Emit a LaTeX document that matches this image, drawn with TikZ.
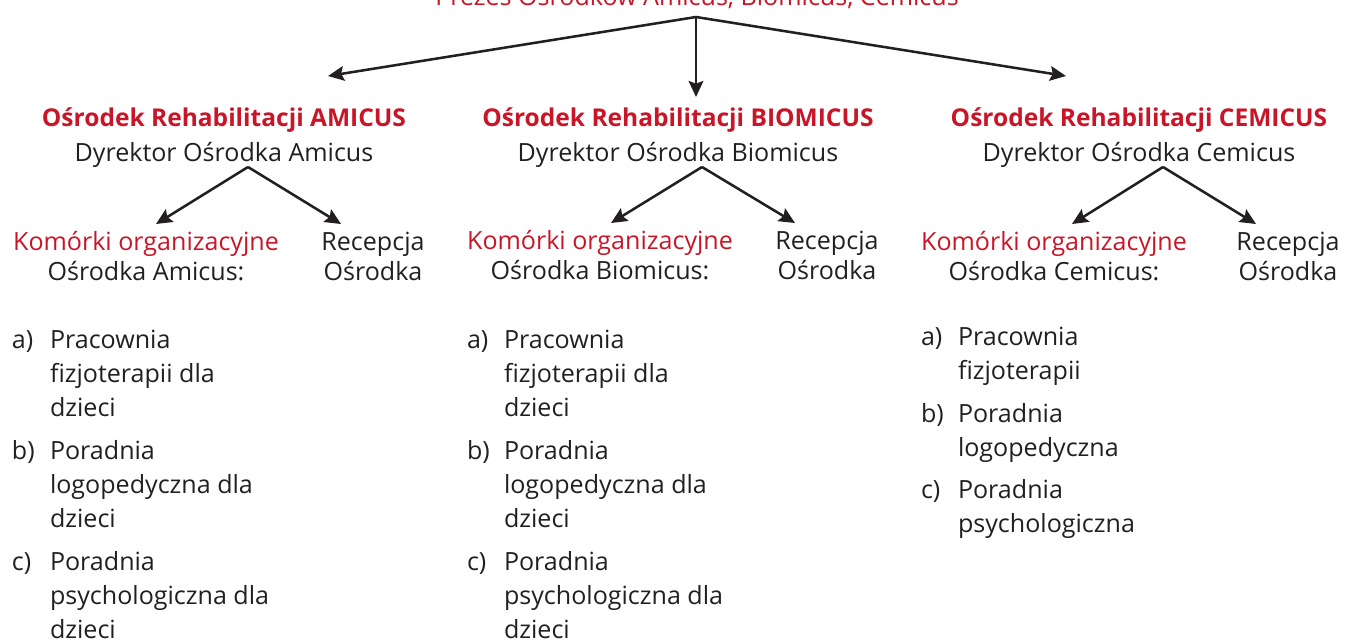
\documentclass[tikz,border=0pt]{standalone}
\usepackage{fontspec}
\setmainfont{Open Sans}
\usetikzlibrary{arrows.meta}
\definecolor{cred}{RGB}{200,22,40}
\definecolor{ctext}{RGB}{35,31,32}
\begin{document}
\begin{tikzpicture}[x=0.75pt,y=-0.75pt,
  base/.style={inner sep=0pt, outer sep=0pt, text=ctext, anchor=base},
  txt/.style={base, font=\fontsize{18.8}{25.5}\selectfont},
  head/.style={base, font=\fontsize{18.4}{25.5}\selectfont\bfseries, text=cred},
  top/.style={base, font=\fontsize{18.8}{25.5}\selectfont, text=cred},
  unit/.style={base, font=\fontsize{18.8}{22}\selectfont, align=center},
  lbl/.style={txt, anchor=base west},
  item/.style={txt, anchor=base west, align=left},
  arr/.style={draw=ctext, line width=1.9pt, -{Stealth[length=12pt,width=11pt,inset=2pt]}}
]
\useasboundingbox (0,0) rectangle (1345,639);

% top
\node[top] (prezes) at (697,5.5) {Prezes Ośrodków Amicus, Biomicus, Cemicus};
\coordinate (p) at (696,17);
\coordinate (tA) at (328,76);
\coordinate (tB) at (696,97);
\coordinate (tC) at (1066,76);
\draw[arr] (p) -- (tA);
\draw[arr] (p) -- (tB);
\draw[arr] (p) -- (tC);

% headings
\node[head] (hA) at (224,126) {Ośrodek Rehabilitacji AMICUS};
\node[head] (hB) at (678,126) {Ośrodek Rehabilitacji BIOMICUS};
\node[head] (hC) at (1139,126) {Ośrodek Rehabilitacji CEMICUS};
\node[txt] (dA) at (224,161) {Dyrektor Ośrodka Amicus};
\node[txt] (dB) at (678,161) {Dyrektor Ośrodka Biomicus};
\node[txt] (dC) at (1139,161) {Dyrektor Ośrodka Cemicus};

% sub arrows
\coordinate (pA) at (248,167);
\coordinate (pB) at (702,167);
\coordinate (pC) at (1163,167);
\coordinate (kAt) at (156,224);
\coordinate (rAt) at (341,224);
\coordinate (kBt) at (611,223);
\coordinate (rBt) at (795,223);
\coordinate (kCt) at (1072,224);
\coordinate (rCt) at (1256,224);
\draw[arr] (pA) -- (kAt);
\draw[arr] (pA) -- (rAt);
\draw[arr] (pB) -- (kBt);
\draw[arr] (pB) -- (rBt);
\draw[arr] (pC) -- (kCt);
\draw[arr] (pC) -- (rCt);

% units (anchored at the baseline of the last line)
\node[unit] (kA) at (146,280) {\textcolor{cred}{Komórki organizacyjne}\\Ośrodka Amicus:};
\node[unit] (rA) at (373,280) {Recepcja\\Ośrodka};
\node[unit] (kB) at (600,279) {\textcolor{cred}{Komórki organizacyjne}\\Ośrodka Biomicus:};
\node[unit] (rB) at (827,279) {Recepcja\\Ośrodka};
\node[unit] (kC) at (1054,280) {\textcolor{cred}{Komórki organizacyjne}\\Ośrodka Cemicus:};
\node[unit] (rC) at (1288,280) {Recepcja\\Ośrodka};

% lists A
\node[lbl] (aA) at (12,348) {a)};
\node[item] (aAt) at (50,416) {Pracownia\\fizjoterapii dla\\dzieci};
\node[lbl] (bA) at (12,459) {b)};
\node[item] (bAt) at (50,527) {Poradnia\\logopedyczna dla\\dzieci};
\node[lbl] (cA) at (12,570) {c)};
\node[item] (cAt) at (50,638) {Poradnia\\psychologiczna dla\\dzieci};

% lists B
\node[lbl] (aB) at (467,348) {a)};
\node[item] (aBt) at (504,416) {Pracownia\\fizjoterapii dla\\dzieci};
\node[lbl] (bB) at (467,459) {b)};
\node[item] (bBt) at (504,527) {Poradnia\\logopedyczna dla\\dzieci};
\node[lbl] (cB) at (467,570) {c)};
\node[item] (cBt) at (504,638) {Poradnia\\psychologiczna dla\\dzieci};

% lists C
\node[lbl] (aC) at (921,345) {a)};
\node[item] (aCt) at (958,379) {Pracownia\\fizjoterapii};
\node[lbl] (bC) at (921,422) {b)};
\node[item] (bCt) at (958,456) {Poradnia\\logopedyczna};
\node[lbl] (cC) at (921,498) {c)};
\node[item] (cCt) at (958,532) {Poradnia\\psychologiczna};
\end{tikzpicture}
\end{document}
